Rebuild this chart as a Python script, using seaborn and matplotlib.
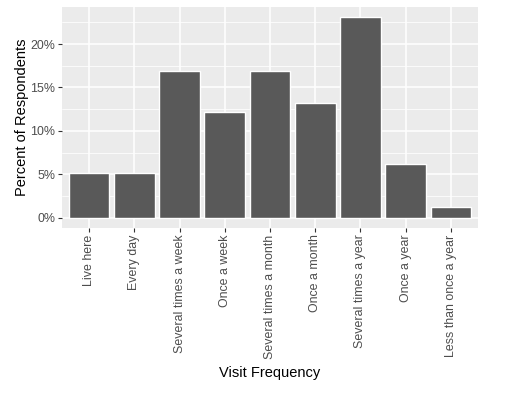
import matplotlib
matplotlib.use("Agg")
import matplotlib.pyplot as plt
import seaborn as sns
import pandas as pd
from matplotlib.ticker import FuncFormatter, MultipleLocator

categories = ["Live here", "Every day", "Several times a week", "Once a week",
              "Several times a month", "Once a month", "Several times a year",
              "Once a year", "Less than once a year"]
percents = [5.2, 5.2, 16.9, 12.2, 16.9, 13.2, 23.1, 6.2, 1.3]

df = pd.DataFrame({"freq": categories, "pct": percents})

sns.set_theme(style="darkgrid")
plt.rcParams['font.family'] = ['Liberation Sans', 'DejaVu Sans']

fig = plt.figure(figsize=(5.07, 3.96), dpi=100)
ax = fig.add_axes([62/507, 1-228/396, (478-62)/507, (228-7)/396])
ax.set_facecolor("#EBEBEB")

sns.barplot(data=df, x="freq", y="pct", order=categories, color="#595959",
            saturation=1, width=0.9, ax=ax, zorder=3)

ax.set_xlim(-0.6, len(categories) - 0.4)
ax.set_ylim(-1.155, 24.255)
ax.yaxis.set_major_locator(MultipleLocator(5))
ax.yaxis.set_minor_locator(MultipleLocator(2.5))
ax.yaxis.set_major_formatter(FuncFormatter(lambda v, p: f"{v:.0f}%"))
ax.set_yticks([0, 5, 10, 15, 20])

ax.grid(which="major", color="white", linewidth=1.1, zorder=0)
ax.grid(which="minor", axis="y", color="white", linewidth=0.55, zorder=0)
ax.set_axisbelow(True)
for s in ax.spines.values():
    s.set_visible(False)

ax.tick_params(axis="both", which="major", length=2.75, width=0.8, color="#333333",
               labelcolor="#4D4D4D", labelsize=8.9, pad=2, left=True, bottom=True)
ax.tick_params(axis="y", which="minor", length=0)
plt.setp(ax.get_xticklabels(), rotation=90)

ax.set_xlabel("Visit Frequency", fontsize=10.5, color="black", labelpad=5)
ax.set_ylabel("Percent of Respondents", fontsize=10.5, color="black", labelpad=1)

fig.savefig("out.png", dpi=100)
